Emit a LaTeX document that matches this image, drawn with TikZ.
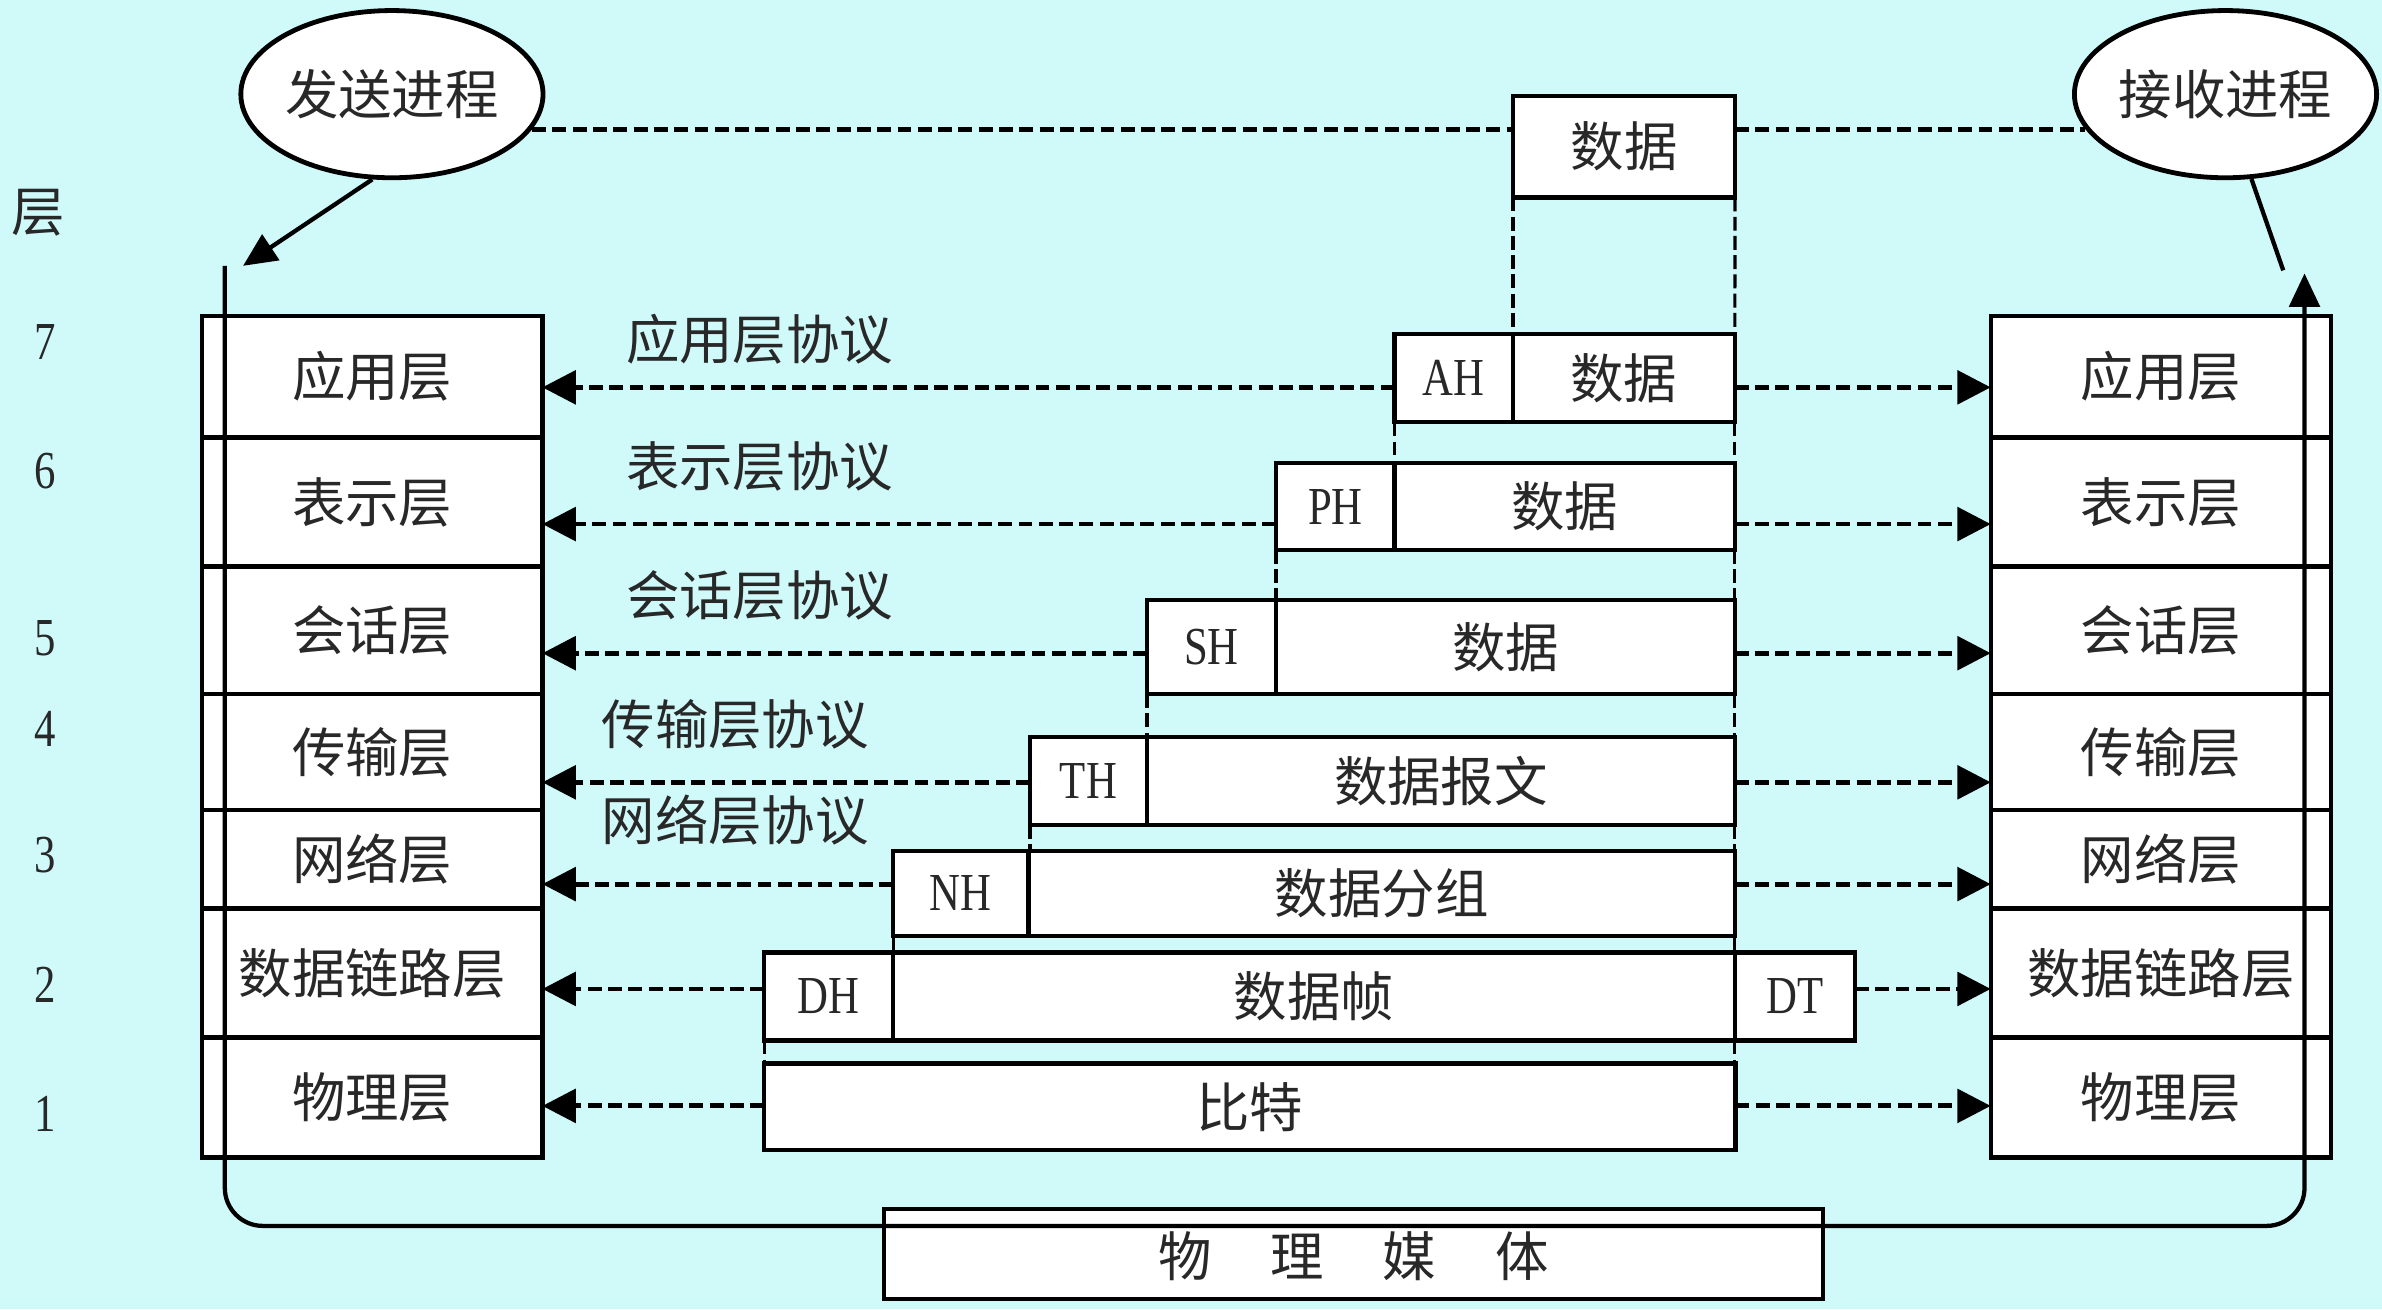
\documentclass[tikz,border=0pt]{standalone}
\usepackage{fontspec}
\setmainfont{Liberation Serif}[FakeStretch=0.8]
\newfontfamily\cjk{Noto Sans CJK SC}
\usetikzlibrary{shapes.geometric, positioning, arrows.meta}
\definecolor{bgcyan}{RGB}{208,250,250}
\definecolor{ink}{RGB}{40,40,40}

\tikzset{
  layer/.style={draw, fill=white, line width=0.8pt, inner sep=0pt, outer sep=0pt, minimum width=2.24cm, font=\cjk, text=ink},
  pdu/.style={draw, fill=white, line width=0.8pt, inner sep=0pt, outer sep=0pt, text=ink},
  proc/.style={ellipse, draw, fill=white, line width=0.9pt, minimum width=1.95cm, minimum height=1.1cm, inner sep=0pt, font=\cjk, text=ink},
  peer/.style={dash pattern=on 2.6pt off 1.2pt, line width=0.9pt, -{Triangle[length=0.22cm, width=0.22cm]}},
  vlink/.style={dash pattern=on 2.6pt off 1pt, line width=0.6pt},
  flow/.style={line width=0.8pt, -{Triangle[length=0.22cm, width=0.2cm]}},
}

\begin{document}
\begin{tikzpicture}[x=0.01cm, y=-0.01cm]
\path[fill=bgcyan, use as bounding box] (0,0) rectangle (1568,862);

% the two stacks
\foreach \n/\t/\c/\h in {7/应用层/248/80, 6/表示层/330.5/85, 5/会话层/415/84, 4/传输层/495/76, 3/网络层/565.5/65, 2/数据链路层/640.5/85, 1/物理层/722.5/79}
{
  \node[layer, minimum height=\h*0.01cm] (L\n) at (245,\c) {\t};
  \node[layer, minimum height=\h*0.01cm] (R\n) at (1422.5,\c) {\t};
}

% layer numbers
\node[font=\cjk, text=ink] (lvl) at (25,140) {层};
\foreach \n/\y in {7/225, 6/310, 5/420, 4/480, 3/563, 2/648, 1/733}
  \node[text=ink] (N\n) at (30,\y) {\n};

% protocols
\foreach \n/\t/\x/\y in {7/应用层协议/500/223, 6/表示层协议/500/307, 5/会话层协议/500/392, 4/传输层协议/484/477, 3/网络层协议/484/540}
  \node[font=\cjk, text=ink] (P\n) at (\x,\y) {\t};

\node[proc] (send) at (258,62) {发送进程};
\node[proc] (recv) at (1465,62) {接收进程};

\node[pdu, anchor=north west, minimum width=1.46cm, minimum height=0.67cm, font=\cjk] (top) at (996,63) {数据};

% headers and data units
\foreach \n/\hd/\txt/\a/\b/\t/\h in {7/AH/数据/918/996/220/58, 6/PH/数据/840/918/305/57, 5/SH/数据/755/840/395/62, 4/TH/数据报文/678/755/485/58, 3/NH/数据分组/588/677/560/56, 2/DH/数据帧/503/588/627/58}
{
  \node[pdu, anchor=north west, minimum width={(\b-\a)*0.01cm}, minimum height=\h*0.01cm] (H\n) at (\a,\t) {\hd};
  \node[pdu, anchor=north west, minimum width={(1142-\b)*0.01cm}, minimum height=\h*0.01cm, font=\cjk] (D\n) at (\b,\t) {\txt};
}
\node[pdu, right=0pt of D2, minimum width=0.79cm, minimum height=0.58cm] (T2) {DT};
\node[pdu, anchor=north west, minimum width=6.39cm, minimum height=0.57cm, font=\cjk] (D1) at (503,700) {比特};

% data between the processes
\draw[dash pattern=on 2.6pt off 1.2pt, line width=0.9pt] (send.-14) -- (send.-14 -| top.west);
\draw[dash pattern=on 2.6pt off 1.2pt, line width=0.9pt] (top.east |- recv.194) -- (recv.194);

% vertical links
\draw[vlink] (top.south west) -- (D7.north west);
\draw[vlink] (top.south east) -- (D7.north east);
\foreach \u/\l in {7/6, 6/5, 5/4, 4/3, 3/2}
{
  \draw[vlink] (H\u.south west) -- (H\u.south west |- H\l.north);
  \draw[vlink] (D\u.south east) -- (D\u.south east |- D\l.north);
}
\draw[vlink] (H2.south west) -- (D1.north west);
\draw[vlink] (D2.south east) -- (D2.south east |- D1.north);

% peer arrows
\foreach \n/\y/\a/\b in {7/255/H7/D7, 6/345/H6/D6, 5/430/H5/D5, 4/515/H4/D4, 3/582/H3/D3, 2/651/H2/T2, 1/728/D1/D1}
{
  \draw[peer] (\a.west |- 0,\y) -- (L\n.east |- 0,\y);
  \draw[peer] (\b.east |- 0,\y) -- (R\n.west |- 0,\y);
}

\node[pdu, minimum width=6.18cm, minimum height=0.59cm, font=\cjk, text depth=-0.1cm] (medium) at (891,825.5) {物\hspace{1.1em}理\hspace{1.1em}媒\hspace{1.1em}体};

% path through the medium
\coordinate (sin) at (160,175);
\coordinate (lin) at (148,175);
\coordinate (rout) at (1517,180);
\coordinate (rtip) at (1503,178);
\draw[flow] (send.-103) -- (sin);
\draw[line width=0.8pt] (recv.-73) -- (rtip);
\draw[flow, rounded corners=0.25cm] (lin) -- (lin |- 0,807) -- (rout |- 0,807) -- (rout);

\end{tikzpicture}
\end{document}
